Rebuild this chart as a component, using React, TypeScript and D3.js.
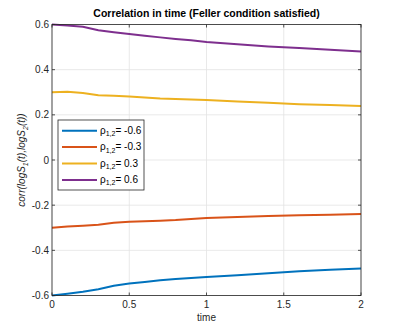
import { scaleLinear, line } from 'd3'

const width = 399,
      height = 332,
      margin = { top: 24.5, right: 38, bottom: 36.5, left: 52 }

const times = [0, 0.1, 0.2, 0.3, 0.4, 0.5, 0.6, 0.7, 0.8, 0.9, 1.0, 1.2, 1.4, 1.6, 1.8, 2.0]
const rhoNeg06 = [-0.600, -0.592, -0.583, -0.572, -0.557, -0.547, -0.540, -0.533, -0.527, -0.522, -0.518, -0.510, -0.502, -0.493, -0.486, -0.480]
const rhoNeg03 = [-0.300, -0.294, -0.291, -0.287, -0.278, -0.273, -0.271, -0.269, -0.266, -0.261, -0.257, -0.252, -0.248, -0.245, -0.242, -0.239]
const rhoPos03 = [0.300, 0.302, 0.297, 0.287, 0.284, 0.281, 0.277, 0.272, 0.270, 0.268, 0.266, 0.259, 0.253, 0.247, 0.243, 0.239]
const rhoPos06 = [0.600, 0.596, 0.590, 0.575, 0.566, 0.558, 0.550, 0.543, 0.536, 0.530, 0.523, 0.513, 0.503, 0.496, 0.488, 0.480]

const seriesLabels = ['-0.6', '-0.3', '0.3', '0.6']
const seriesColors = ['#0072BD', '#D95319', '#EDB120', '#7E2F8E']
const xTicks = [0, 0.5, 1, 1.5, 2]
const yTicks = [-0.6, -0.4, -0.2, 0, 0.2, 0.4, 0.6]

const font = '"Liberation Sans", Arial, Helvetica, sans-serif'
const axisColor = '#262626'

export default function App() {
  const x = scaleLinear().domain([0, 2]).range([margin.left, width - margin.right])
  const y = scaleLinear().domain([-0.6, 0.6]).range([height - margin.bottom, margin.top])

  const allSeries = [rhoNeg06, rhoNeg03, rhoPos03, rhoPos06]
  const path = (vals: number[]) =>
    line<number>()
      .x((_, i) => x(times[i]))
      .y(d => y(d))(vals) || ''

  const [x0, x1] = x.range()
  const [y0, y1] = y.range()

  // legend box
  const lx = 58, ly = 120, lw = 86, lh = 70

  return (
    <svg width={width} height={height} style={{ position: 'absolute', left: 0, top: 0, background: '#fff' }}>
      {/* grid */}
      {xTicks.map(t => (
        <line key={'gx' + t} x1={x(t)} x2={x(t)} y1={y1} y2={y0} stroke='#e3e3e3' strokeWidth={0.8} />
      ))}
      {yTicks.map(t => (
        <line key={'gy' + t} x1={x0} x2={x1} y1={y(t)} y2={y(t)} stroke='#e3e3e3' strokeWidth={0.8} />
      ))}

      {/* series */}
      {allSeries.map((s, i) => (
        <path key={i} d={path(s)} fill='none' stroke={seriesColors[i]} strokeWidth={2} />
      ))}

      {/* box + ticks */}
      <rect x={x0} y={y1} width={x1 - x0} height={y0 - y1} fill='none' stroke={axisColor} strokeWidth={0.8} />
      {xTicks.map(t => (
        <g key={'tx' + t}>
          <line x1={x(t)} x2={x(t)} y1={y0} y2={y0 - 3} stroke={axisColor} strokeWidth={0.8} />
          <line x1={x(t)} x2={x(t)} y1={y1} y2={y1 + 3} stroke={axisColor} strokeWidth={0.8} />
          <text x={x(t)} y={y0 + 12} textAnchor='middle' fontFamily={font} fontSize={10} fill={axisColor}>{t}</text>
        </g>
      ))}
      {yTicks.map(t => (
        <g key={'ty' + t}>
          <line x1={x0} x2={x0 + 3} y1={y(t)} y2={y(t)} stroke={axisColor} strokeWidth={0.8} />
          <line x1={x1} x2={x1 - 3} y1={y(t)} y2={y(t)} stroke={axisColor} strokeWidth={0.8} />
          <text x={x0 - 3} y={y(t) + 3.5} textAnchor='end' fontFamily={font} fontSize={10} fill={axisColor}>{t}</text>
        </g>
      ))}

      {/* title and labels */}
      <text x={(x0 + x1) / 2} y={17} textAnchor='middle' fontFamily={font} fontSize={10.5} fontWeight='bold' fill='#000'>
        Correlation in time (Feller condition satisfied)
      </text>
      <text x={(x0 + x1) / 2} y={321} textAnchor='middle' fontFamily={font} fontSize={10} fill={axisColor}>time</text>
      <text transform={`translate(25, ${(y0 + y1) / 2}) rotate(-90)`} textAnchor='middle' fontFamily={font} fontSize={10} fontStyle='italic' fill={axisColor}>
        corr(logS<tspan fontSize={7} dy={2.5}>1</tspan><tspan dy={-2.5}>(t),logS</tspan><tspan fontSize={7} dy={2.5}>2</tspan><tspan dy={-2.5}>(t))</tspan>
      </text>

      {/* legend */}
      <rect x={lx} y={ly} width={lw} height={lh} fill='#fff' stroke={axisColor} strokeWidth={0.8} />
      {seriesLabels.map((lab, i) => {
        const yy = ly + 10.7 + i * 16.4
        return (
          <g key={'l' + i}>
            <line x1={lx + 4} x2={lx + 39} y1={yy} y2={yy} stroke={seriesColors[i]} strokeWidth={2} />
            <text x={lx + 42} y={yy + 3} fontFamily={font} fontSize={10} fill='#000'>
              ρ<tspan fontSize={7} dy={2.5}>1,2</tspan><tspan dy={-2.5}>= {lab}</tspan>
            </text>
          </g>
        )
      })}
    </svg>
  )
}
